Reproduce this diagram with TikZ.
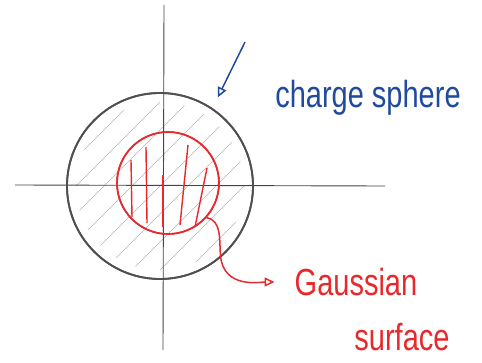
\documentclass[tikz,border=0pt]{standalone}
\usepackage{fontspec}
\setmainfont{Liberation Sans}
\usetikzlibrary{arrows.meta, positioning}

\definecolor{pencil}{HTML}{505050}
\definecolor{hatchgray}{HTML}{B4B4B4}
\definecolor{penred}{HTML}{E8292C}
\definecolor{penblue}{HTML}{1F4A9E}

\begin{document}
\begin{tikzpicture}[
    x=1pt, y=1pt,
    axis/.style={draw=pencil!85!black, line width=0.9pt},
    sphere/.style={circle, draw=pencil, line width=1.8pt, minimum size=186pt, inner sep=0pt},
    surface/.style={circle, draw=penred, line width=1.6pt, minimum size=102pt, inner sep=0pt},
    hatch/.style={draw=hatchgray, line width=0.6pt},
    stripe/.style={draw=penred, line width=1.4pt},
    label/.style={inner sep=0pt, yscale=1.3, transform shape, font=\fontsize{29}{34}\selectfont},
    pointer/.style={-{Triangle[open, length=10pt, width=9pt]}, line width=1.5pt}
]
    \useasboundingbox (0,0) rectangle (482,362);

    % the charge sphere and the gaussian surface
    \node[sphere] (charge) at (160,176) {};
    \node[surface] (gauss) at (168,179) {};

    % hatching of the charge
    \begin{scope}
        \clip (charge.center) circle (84);
        \foreach \d in {-84,-70,...,84}
            \draw[hatch] ([shift={(\d-100,-\d-100)}]charge.center) -- ++(200,200);
    \end{scope}

    % axes
    \draw[axis] (164,357) -- (163,12);
    \draw[axis] (15,177) -- (385,176);

    % redraw outlines on top
    \node[sphere] at (charge.center) {};
    \node[surface] at (gauss.center) {};

    % stripes inside the gaussian surface
    \draw[stripe] (131,202) -- (132,145);
    \draw[stripe] (146,215) -- (147,139);
    \draw[stripe] (163,187) -- (163,135);
    \draw[stripe] (188,217) -- (180,137);
    \draw[stripe] (207,194) -- (195,135);

    % labels
    \node[label, text=penblue] (chargeword) at (368,264) {charge sphere};
    \node[label, text=penred] (gaussword) at (356,80) {Gaussian};
    \node[label, text=penred] (surfaceword) at (402,25) {surface};

    % pointers
    \coordinate (tail) at (245,320);
    \draw[pointer, draw=penblue, shorten >=12pt] (tail) -- (charge.56);
    \draw[pointer, draw=penred, shorten >=20pt] (gauss.-42) to[out=-10, in=95] ++(14,-38)
        to[out=-85, in=180, looseness=1.1] (gaussword.west);
\end{tikzpicture}
\end{document}
